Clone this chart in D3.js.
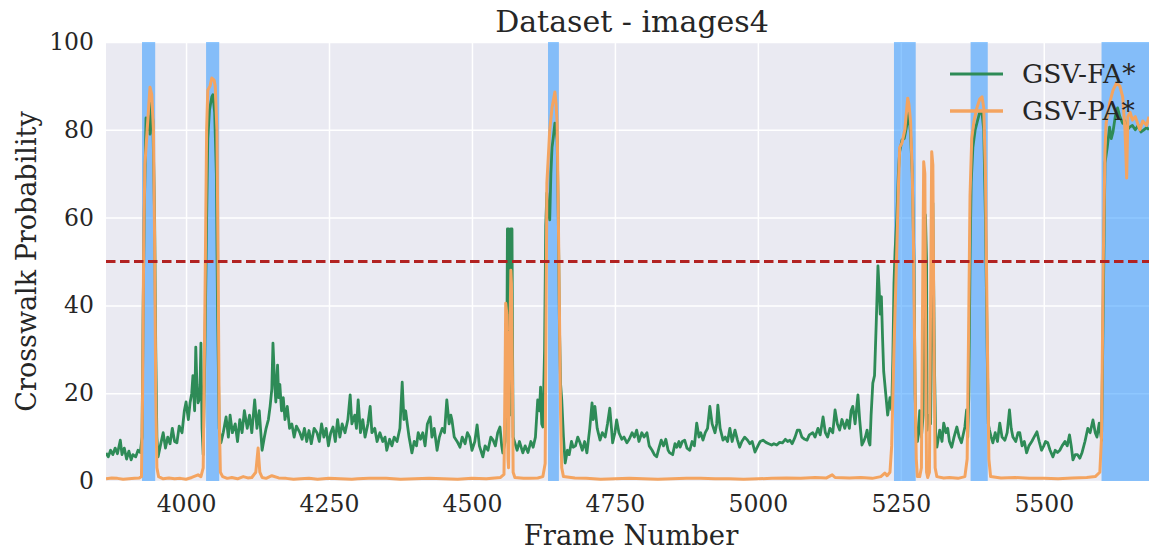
<!DOCTYPE html>
<html lang="en">
<style>
body { margin: 0; background: white; }
svg { display: block; font-family: "DejaVu Serif", serif; }
.grid line { stroke: white; stroke-width: 1.5; }
.grid path { display: none; }
.ticks text { fill: #262626; font-size: 23.5px; font-family: "DejaVu Serif", serif; }
</style>
<svg width="1149" height="551"></svg>
<script src="https://d3js.org/d3.v7.min.js"></script>
<script>
// Frame Number, Crosswalk Probability
var xTicks = [4000, 4250, 4500, 4750, 5000, 5250, 5500];
var yTicks = [0, 20, 40, 60, 80, 100];
var threshold = 50;
var crosswalkSpans = [[3923, 3946], [4035, 4058], [4633, 4652], [5238, 5276], [5372, 5402], [5601, 5700]];

var faPoints = [
  [3860,6.4],[3864,5.5],[3868,7],[3872,6],[3876,7.5],[3880,6.2],[3885,9.3],[3888,6],[3892,7.5],[3896,5],
  [3900,6.8],[3904,4.8],[3907,6],[3912,5.5],[3916,7],[3920,6.5],[3923,10],[3925,40],[3927,62],[3930,82.7],
  [3932,80],[3935,83],[3937,79],[3939,86.3],[3942,82],[3945,60],[3947,30],[3949,10],[3951,5.5],[3955,8],
  [3960,11],[3964,7.5],[3968,10],[3972,8.5],[3976,12],[3980,9],[3984,8.7],[3988,12.5],[3993,11],[3997,16],
  [4000,18],[4004,14],[4007,17.8],[4010,20],[4012,24],[4015,16],[4017,30.5],[4019,22],[4021,17.8],[4024,19],
  [4026,31.4],[4028,12],[4030,6],[4033,30],[4036,60],[4038,78],[4041,84.5],[4045,87.5],[4047,88],[4050,84],
  [4053,70],[4055,40],[4058,12],[4061,8.7],[4065,11],[4070,14.6],[4074,10],[4077,15],[4081,11],[4086,13],
  [4090,9],[4094,14],[4098,11],[4102,16],[4107,12],[4111,15],[4115,11],[4120,18.5],[4124,12],[4128,16],
  [4133,7],[4137,10],[4140,12],[4144,14],[4147,17],[4150,21],[4152,31.4],[4155,22],[4157,18],[4160,26.4],
  [4162,19],[4164,22],[4167,16],[4170,19],[4173,14],[4177,17],[4181,12],[4185,13],[4189,10],[4193,12.5],
  [4199,11],[4203,9.5],[4207,12],[4211,9],[4215,11.5],[4219,8.5],[4224,12],[4229,11],[4233,9],[4237,13],
  [4241,10],[4245,12],[4249,8],[4253,11],[4257,12.3],[4261,9],[4265,14],[4269,10],[4273,13],[4278,11],
  [4283,14],[4287,19.6],[4290,13],[4295,15],[4298,12],[4301,18.5],[4305,11],[4309,14],[4313,10],[4318,13],
  [4322,17],[4325,11],[4330,12],[4334,9],[4339,11],[4344,9],[4348,10],[4351,7],[4356,9.5],[4360,8],
  [4364,10],[4369,9],[4374,12],[4378,22.5],[4381,14],[4384,16],[4386,13.9],[4390,10],[4395,6.4],[4399,9],
  [4403,8],[4406,11],[4410,9.5],[4414,11],[4418,8],[4422,13],[4427,14.6],[4430,10],[4434,12],[4439,7],
  [4443,10],[4448,12],[4452,11],[4456,18.5],[4460,13],[4463,15],[4465,13.9],[4469,10],[4474,9],[4479,7.7],
  [4483,10],[4488,8.5],[4492,11],[4496,10],[4500,7],[4505,9],[4509,12.8],[4513,8],[4519,5.5],[4523,8],
  [4528,7],[4533,10],[4537,9.3],[4541,8],[4545,11],[4549,12.3],[4552,8],[4554,6.4],[4558,9],[4561,30],
  [4562,57.4],[4564,57.4],[4565,30],[4566,15],[4567,40],[4568,57.4],[4570,57.4],[4571,30],[4572,10],[4575,8.7],
  [4579,7],[4583,9],[4589,6.4],[4593,8],[4598,6.5],[4603,9],[4607,7.7],[4611,10],[4615,18.5],[4618,16],
  [4620,21.4],[4622,13],[4624,12.3],[4627,30],[4629,58],[4631,65.6],[4633,62],[4636,59.5],[4638,70],[4640,76],
  [4642,78],[4645,81.5],[4647,80],[4649,77.7],[4651,60],[4653,35],[4655,22],[4657,18.5],[4660,10],[4663,4.1],
  [4667,7],[4670,6],[4674,9],[4677,7.7],[4681,8],[4685,10],[4689,8.7],[4693,7],[4697,9],[4701,6.4],
  [4706,12],[4710,17.8],[4712,14],[4715,17],[4719,12],[4724,9.3],[4728,11],[4733,10],[4737,13],[4741,16.6],
  [4744,12],[4746,8.7],[4750,11],[4753,13.9],[4757,11],[4762,9.5],[4766,10],[4771,8.7],[4775,9.5],[4780,11],
  [4784,10],[4788,11.6],[4792,9],[4797,11],[4801,10],[4806,11],[4810,8],[4815,7],[4819,6],[4823,5.5],
  [4827,7.5],[4831,9.3],[4835,8],[4839,9.5],[4843,7],[4846,6.4],[4851,6],[4855,8.5],[4858,7.7],[4862,9],
  [4864,7.7],[4868,9],[4872,9.3],[4876,7.5],[4881,7],[4885,9],[4889,8],[4893,13.2],[4897,10],[4900,11],
  [4904,9.3],[4908,11],[4912,12],[4916,17],[4920,13],[4925,11],[4928,13],[4930,17.3],[4934,12],[4939,9.3],
  [4943,10],[4947,9],[4951,12],[4955,9],[4960,11.6],[4964,9.5],[4968,7.7],[4972,9],[4977,10],[4982,9.3],
  [4986,8.5],[4990,9],[4995,6.6],[5000,8],[5004,9],[5009,9.3],[5014,8.8],[5019,8.5],[5024,8.2],[5028,8.5],
  [5033,8.2],[5038,8.8],[5043,8.7],[5048,9.5],[5052,9],[5056,9.3],[5060,8.5],[5065,10],[5069,11.6],[5073,11.6],
  [5077,10],[5082,9.5],[5086,9.3],[5090,10.5],[5096,11],[5100,10],[5105,12],[5109,10.5],[5114,14.6],[5118,11],
  [5122,10],[5126,12],[5131,11],[5135,16.2],[5139,13],[5143,11.6],[5147,14],[5152,12],[5156,13.9],[5160,12],
  [5163,16],[5166,17],[5170,13],[5173,17],[5175,19.6],[5178,14],[5182,8.2],[5185,9],[5188,10],[5191,11.6],
  [5194,9],[5196,8.2],[5198,15],[5201,22.3],[5204,24],[5207,36],[5210,49],[5212,44],[5214,38],[5216,42],
  [5218,32.8],[5220,25],[5223,20.7],[5227,15],[5231,19],[5234,16.2],[5236,27.6],[5238,45],[5240,52.6],[5243,60],
  [5246,71],[5248,75],[5252,77.7],[5256,78],[5259,80],[5264,83.8],[5267,79],[5270,70],[5273,50],[5275,20],
  [5277,10],[5279,9],[5281,11],[5283,16],[5286,10],[5289,15],[5291,40],[5293,60.6],[5295,50],[5296,11.6],
  [5298,15],[5302,13],[5304,35],[5306,63.3],[5307,50],[5309,24.6],[5311,10],[5313,7.7],[5318,11.6],[5322,9],
  [5325,13.2],[5329,11],[5332,12],[5335,9],[5339,7.7],[5343,10],[5348,12.3],[5352,10],[5356,8.7],[5362,12.3],
  [5365,16.2],[5367,10],[5369,20],[5371,50],[5373,68],[5376,76],[5380,80],[5384,82],[5388,84],[5392,83.8],
  [5395,80],[5398,60],[5401,30],[5403,13],[5405,11.6],[5408,10],[5411,8.7],[5415,11],[5419,9],[5423,13.2],
  [5427,10],[5432,9.3],[5436,11],[5440,16.2],[5443,12],[5446,10],[5451,9],[5455,11],[5458,11],[5462,8],
  [5466,9],[5470,6.4],[5474,8],[5479,9],[5483,10],[5488,11.2],[5492,9],[5496,7],[5500,8],[5503,9],
  [5507,8.7],[5511,7],[5516,5.5],[5520,7],[5524,6.5],[5528,7],[5532,8],[5537,9],[5541,8],[5545,10.5],
  [5548,8],[5551,4.8],[5555,6],[5559,6],[5563,5.2],[5567,6.5],[5572,9],[5577,12],[5581,11],[5586,13.9],
  [5590,11],[5593,10],[5597,13.2],[5601,9.3],[5604,40],[5607,72.4],[5611,76],[5615,80.6],[5618,78],[5621,79.5],
  [5625,83],[5629,85],[5633,83],[5638,81.5],[5642,82],[5646,80],[5650,80.6],[5655,81],[5660,80],[5665,81],
  [5670,79.5],[5675,80],[5680,80.5],[5684,80]
];

var paPoints = [
  [3860,0.5],[3870,0.7],[3880,0.6],[3890,0.4],[3900,0.5],[3910,0.6],[3918,0.7],[3922,1],[3924,20],[3926,55],
  [3928,72],[3932,80],[3935,86],[3937,89.7],[3940,88],[3943,80],[3945,55],[3947,20],[3949,3],[3952,1],
  [3960,0.5],[3970,0.7],[3980,0.5],[3990,0.6],[4000,0.4],[4010,0.8],[4021,1.4],[4026,1],[4030,3],[4033,40],
  [4036,80],[4038,89],[4042,90],[4045,91.8],[4049,91.3],[4051,90],[4054,80],[4056,50],[4058,15],[4060,2],
  [4064,1],[4072,0.6],[4080,0.8],[4090,0.5],[4100,1],[4108,0.7],[4115,0.8],[4122,2],[4126,7.5],[4129,2],
  [4133,0.8],[4140,0.6],[4150,1.2],[4162,0.7],[4175,0.6],[4188,0.4],[4200,0.5],[4215,0.6],[4230,0.4],[4250,0.6],
  [4270,0.5],[4290,0.4],[4300,0.5],[4320,0.6],[4350,0.6],[4375,0.4],[4400,0.5],[4425,0.6],[4450,0.5],[4475,0.4],
  [4500,0.6],[4525,0.5],[4540,0.7],[4550,0.8],[4556,1.5],[4558,25],[4559,40.5],[4561,38],[4562,20],[4563,5],
  [4564,3],[4566,30],[4568,48],[4569,45],[4571,20],[4572,2],[4575,0.8],[4590,0.6],[4600,0.6],[4615,0.7],
  [4624,1],[4628,4],[4631,67.9],[4634,75],[4636,80],[4640,85],[4645,88.6],[4647,86],[4649,81.5],[4652,50],
  [4655,15],[4657,3],[4660,1],[4680,0.7],[4700,0.6],[4725,0.4],[4750,0.5],[4775,0.6],[4800,0.5],[4825,0.4],
  [4850,0.5],[4875,0.6],[4900,0.6],[4925,0.5],[4950,0.5],[4975,0.4],[5000,0.5],[5025,0.6],[5050,0.7],[5075,0.6],
  [5100,0.8],[5120,0.7],[5130,1.4],[5135,0.8],[5160,0.7],[5180,0.8],[5200,0.6],[5215,1],[5222,1.8],[5226,1.2],
  [5231,2],[5234,8],[5238,30],[5243,53],[5246,68],[5248,76],[5252,77],[5257,80],[5262,87.2],[5264,86],
  [5267,82],[5270,70],[5272,55],[5275,20],[5277,5],[5279,1],[5283,1],[5286,3],[5288,40],[5290,72.7],
  [5292,70],[5294,20],[5295,2],[5297,0.8],[5300,2],[5302,40],[5304,75],[5306,72],[5308,30],[5310,3],
  [5313,1],[5325,0.7],[5335,0.8],[5350,0.6],[5362,1],[5366,5],[5369,40],[5371,65],[5374,78],[5378,82],
  [5383,85],[5388,87],[5392,87.5],[5395,85],[5398,70],[5401,35],[5404,5],[5407,1],[5425,0.7],[5450,0.8],
  [5475,0.6],[5500,0.6],[5525,0.5],[5550,0.7],[5575,0.8],[5590,1],[5598,2],[5601,10],[5604,50],[5607,75],
  [5609,81.5],[5615,86],[5621,89],[5627,90.6],[5633,90],[5638,87.5],[5642,80],[5645,69],[5647,83],[5651,84],
  [5655,82.2],[5660,83],[5668,80],[5673,82],[5680,81],[5684,83]
];

var svg = d3.select("svg");
var margin = {left: 106, top: 42, right: 0, bottom: 70};
var width = 1149 - margin.left - margin.right;
var height = 551 - margin.top - margin.bottom;

var x = d3.scaleLinear().domain([3860, 5684]).range([0, width]);
var y = d3.scaleLinear().domain([0, 100]).range([height, 0]);

var g = svg.append("g").attr("transform", "translate(" + margin.left + "," + margin.top + ")");

g.append("clipPath").attr("id", "clip")
  .append("rect").attr("width", width).attr("height", height);

g.append("rect").attr("width", width).attr("height", height).attr("fill", "#eaeaf2");

g.append("g").attr("class", "grid")
  .attr("transform", "translate(0," + height + ")")
  .call(d3.axisBottom(x).tickValues(xTicks).tickSize(-height).tickFormat(""));
g.append("g").attr("class", "grid")
  .call(d3.axisLeft(y).tickValues(yTicks).tickSize(-width).tickFormat(""));

var plot = g.append("g").attr("clip-path", "url(#clip)");

plot.selectAll(".span")
  .data(crosswalkSpans)
  .enter().append("rect")
    .attr("x", function(d) { return x(d[0]); })
    .attr("width", function(d) { return x(d[1]) - x(d[0]); })
    .attr("y", 0)
    .attr("height", height)
    .attr("fill", "dodgerblue")
    .attr("fill-opacity", 0.5);

var line = d3.line()
  .x(function(d) { return x(d[0]); })
  .y(function(d) { return y(d[1]); });

plot.append("path").datum(faPoints)
  .attr("fill", "none").attr("stroke", "#2e8b57").attr("stroke-width", 2.8)
  .attr("stroke-linejoin", "round").attr("d", line);

plot.append("path").datum(paPoints)
  .attr("fill", "none").attr("stroke", "#f4a460").attr("stroke-width", 3)
  .attr("stroke-linejoin", "round").attr("d", line);

plot.append("line")
  .attr("x1", 0).attr("x2", width)
  .attr("y1", y(threshold)).attr("y2", y(threshold))
  .attr("stroke", "#b22222").attr("stroke-width", 2.8)
  .attr("stroke-dasharray", "9.5,4.5");

// tick labels
var xAxis = g.append("g").attr("class", "ticks")
  .attr("transform", "translate(0," + height + ")")
  .call(d3.axisBottom(x).tickValues(xTicks).tickSize(0).tickPadding(14).tickFormat(d3.format("d")));
xAxis.select(".domain").remove();

var yAxis = g.append("g").attr("class", "ticks")
  .call(d3.axisLeft(y).tickValues(yTicks).tickSize(0).tickPadding(12));
yAxis.select(".domain").remove();

svg.append("text")
  .attr("x", 632).attr("y", 32)
  .attr("text-anchor", "middle")
  .attr("font-size", 30).attr("fill", "#262626")
  .text("Dataset - images4");

svg.append("text")
  .attr("x", 631).attr("y", 545)
  .attr("text-anchor", "middle")
  .attr("font-size", 27.5).attr("fill", "#262626")
  .text("Frame Number");

svg.append("text")
  .attr("transform", "translate(36," + (margin.top + height / 2) + ") rotate(-90)")
  .attr("text-anchor", "middle")
  .attr("font-size", 27).attr("fill", "#262626")
  .text("Crosswalk Probability");

// legend
var legendItems = [{name: "GSV-FA*", color: "#2e8b57", w: 3}, {name: "GSV-PA*", color: "#f4a460", w: 3.4}];
var legend = svg.append("g").attr("transform", "translate(950,74)");
legendItems.forEach(function(d, i) {
  legend.append("line")
    .attr("x1", 0).attr("x2", 53).attr("y1", i * 37).attr("y2", i * 37)
    .attr("stroke", d.color).attr("stroke-width", d.w);
  legend.append("text")
    .attr("x", 72).attr("y", i * 37 + 9)
    .attr("font-size", 26.5).attr("fill", "#262626")
    .text(d.name);
});
</script>
</html>
